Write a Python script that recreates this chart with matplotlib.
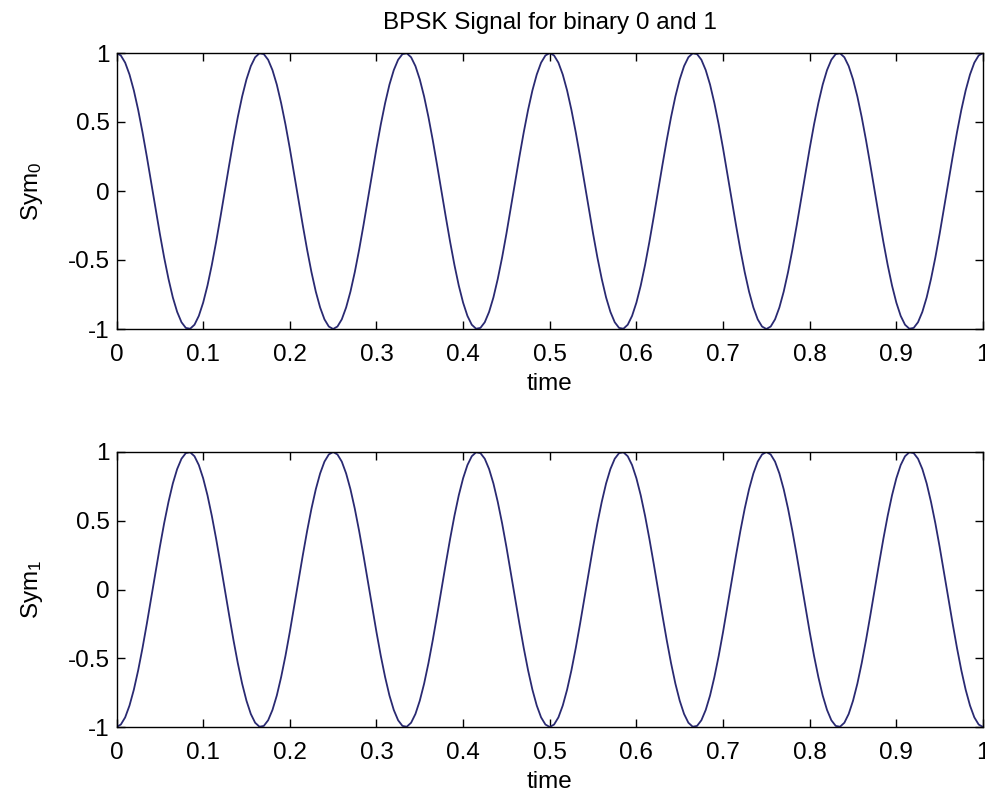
import numpy as np
import matplotlib
matplotlib.use("Agg")
import matplotlib.pyplot as plt

plt.rcParams['font.family'] = ['Liberation Sans', 'DejaVu Sans']
plt.rcParams['mathtext.fontset'] = 'custom'
plt.rcParams['mathtext.rm'] = 'Liberation Sans'
plt.rcParams['mathtext.it'] = 'Liberation Sans'

title = "BPSK Signal for binary 0 and 1"
xlabel = "time"
ylabels = [r"Sym$_0$", r"Sym$_1$"]
xticks = [0, 0.1, 0.2, 0.3, 0.4, 0.5, 0.6, 0.7, 0.8, 0.9, 1]
xticklabels = ["0", "0.1", "0.2", "0.3", "0.4", "0.5", "0.6", "0.7", "0.8", "0.9", "1"]
yticks = [-1, -0.5, 0, 0.5, 1]
yticklabels = ["-1", "-0.5", "0", "0.5", "1"]

# sampled signal values (201 samples over 0..1)
sym0 = [
    1.000, 0.982, 0.930, 0.844, 0.729, 0.588, 0.426, 0.249, 0.063, -0.125,
    -0.309, -0.482, -0.637, -0.771, -0.876, -0.951, -0.992, -0.998, -0.969, -0.905,
    -0.809, -0.685, -0.536, -0.368, -0.187, 0.000, 0.187, 0.368, 0.536, 0.685,
    0.809, 0.905, 0.969, 0.998, 0.992, 0.951, 0.876, 0.771, 0.637, 0.482,
    0.309, 0.125, -0.063, -0.249, -0.426, -0.588, -0.729, -0.844, -0.930, -0.982,
    -1.000,
    -0.982, -0.930, -0.844, -0.729, -0.588, -0.426, -0.249, -0.063, 0.125, 0.309,
    0.482, 0.637, 0.771, 0.876, 0.951, 0.992, 0.998, 0.969, 0.905, 0.809,
    0.685, 0.536, 0.368, 0.187, 0.000, -0.187, -0.368, -0.536, -0.685, -0.809,
    -0.905, -0.969, -0.998, -0.992, -0.951, -0.876, -0.771, -0.637, -0.482, -0.309,
    -0.125, 0.063, 0.249, 0.426, 0.588, 0.729, 0.844, 0.930, 0.982, 1.000,
    0.982, 0.930, 0.844, 0.729, 0.588, 0.426, 0.249, 0.063, -0.125,
    -0.309, -0.482, -0.637, -0.771, -0.876, -0.951, -0.992, -0.998, -0.969, -0.905,
    -0.809, -0.685, -0.536, -0.368, -0.187, 0.000, 0.187, 0.368, 0.536, 0.685,
    0.809, 0.905, 0.969, 0.998, 0.992, 0.951, 0.876, 0.771, 0.637, 0.482,
    0.309, 0.125, -0.063, -0.249, -0.426, -0.588, -0.729, -0.844, -0.930, -0.982,
    -1.000,
    -0.982, -0.930, -0.844, -0.729, -0.588, -0.426, -0.249, -0.063, 0.125, 0.309,
    0.482, 0.637, 0.771, 0.876, 0.951, 0.992, 0.998, 0.969, 0.905, 0.809,
    0.685, 0.536, 0.368, 0.187, 0.000, -0.187, -0.368, -0.536, -0.685, -0.809,
    -0.905, -0.969, -0.998, -0.992, -0.951, -0.876, -0.771, -0.637, -0.482, -0.309,
    -0.125, 0.063, 0.249, 0.426, 0.588, 0.729, 0.844, 0.930, 0.982, 1.000,
]
sym1 = [
    -1.000, -0.982, -0.930, -0.844, -0.729, -0.588, -0.426, -0.249, -0.063, 0.125,
    0.309, 0.482, 0.637, 0.771, 0.876, 0.951, 0.992, 0.998, 0.969, 0.905,
    0.809, 0.685, 0.536, 0.368, 0.187, 0.000, -0.187, -0.368, -0.536, -0.685,
    -0.809, -0.905, -0.969, -0.998, -0.992, -0.951, -0.876, -0.771, -0.637, -0.482,
    -0.309, -0.125, 0.063, 0.249, 0.426, 0.588, 0.729, 0.844, 0.930, 0.982,
    1.000,
    0.982, 0.930, 0.844, 0.729, 0.588, 0.426, 0.249, 0.063, -0.125, -0.309,
    -0.482, -0.637, -0.771, -0.876, -0.951, -0.992, -0.998, -0.969, -0.905, -0.809,
    -0.685, -0.536, -0.368, -0.187, 0.000, 0.187, 0.368, 0.536, 0.685, 0.809,
    0.905, 0.969, 0.998, 0.992, 0.951, 0.876, 0.771, 0.637, 0.482, 0.309,
    0.125, -0.063, -0.249, -0.426, -0.588, -0.729, -0.844, -0.930, -0.982, -1.000,
    -0.982, -0.930, -0.844, -0.729, -0.588, -0.426, -0.249, -0.063, 0.125,
    0.309, 0.482, 0.637, 0.771, 0.876, 0.951, 0.992, 0.998, 0.969, 0.905,
    0.809, 0.685, 0.536, 0.368, 0.187, 0.000, -0.187, -0.368, -0.536, -0.685,
    -0.809, -0.905, -0.969, -0.998, -0.992, -0.951, -0.876, -0.771, -0.637, -0.482,
    -0.309, -0.125, 0.063, 0.249, 0.426, 0.588, 0.729, 0.844, 0.930, 0.982,
    1.000,
    0.982, 0.930, 0.844, 0.729, 0.588, 0.426, 0.249, 0.063, -0.125, -0.309,
    -0.482, -0.637, -0.771, -0.876, -0.951, -0.992, -0.998, -0.969, -0.905, -0.809,
    -0.685, -0.536, -0.368, -0.187, 0.000, 0.187, 0.368, 0.536, 0.685, 0.809,
    0.905, 0.969, 0.998, 0.992, 0.951, 0.876, 0.771, 0.637, 0.482, 0.309,
    0.125, -0.063, -0.249, -0.426, -0.588, -0.729, -0.844, -0.930, -0.982, -1.000,
]
t = np.linspace(0, 1, len(sym0))

line_color = "#2a2a72"
fs = 17.5

fig = plt.figure(figsize=(9.85, 7.99), dpi=100)
positions = [
    [116.5 / 985, 1 - 329 / 799, (983 - 116.5) / 985, (329 - 53) / 799],
    [116.5 / 985, 1 - 727 / 799, (983 - 116.5) / 985, (727 - 452) / 799],
]
series = [sym0, sym1]
for i, (pos, y, yl) in enumerate(zip(positions, series, ylabels)):
    ax = fig.add_axes(pos)
    ax.plot(t, y, color=line_color, linewidth=1.3)
    ax.set_xlim(0, 1)
    ax.set_ylim(-1, 1)
    ax.set_xticks(xticks)
    ax.set_xticklabels(xticklabels)
    ax.set_yticks(yticks)
    ax.set_yticklabels(yticklabels)
    ax.tick_params(direction="in", length=6, width=1, top=True, right=True,
                   labelsize=fs, colors="black")
    ax.tick_params(axis="x", pad=10.5)
    ax.tick_params(axis="y", pad=5)
    for s in ax.spines.values():
        s.set_linewidth(1.0)
    ax.set_xlabel(xlabel, fontsize=fs, labelpad=5)
    ax.set_ylabel(yl, fontsize=fs, labelpad=16)
    if i == 0:
        ax.set_title(title, fontsize=fs, pad=17)

fig.savefig("out.png", dpi=100)
